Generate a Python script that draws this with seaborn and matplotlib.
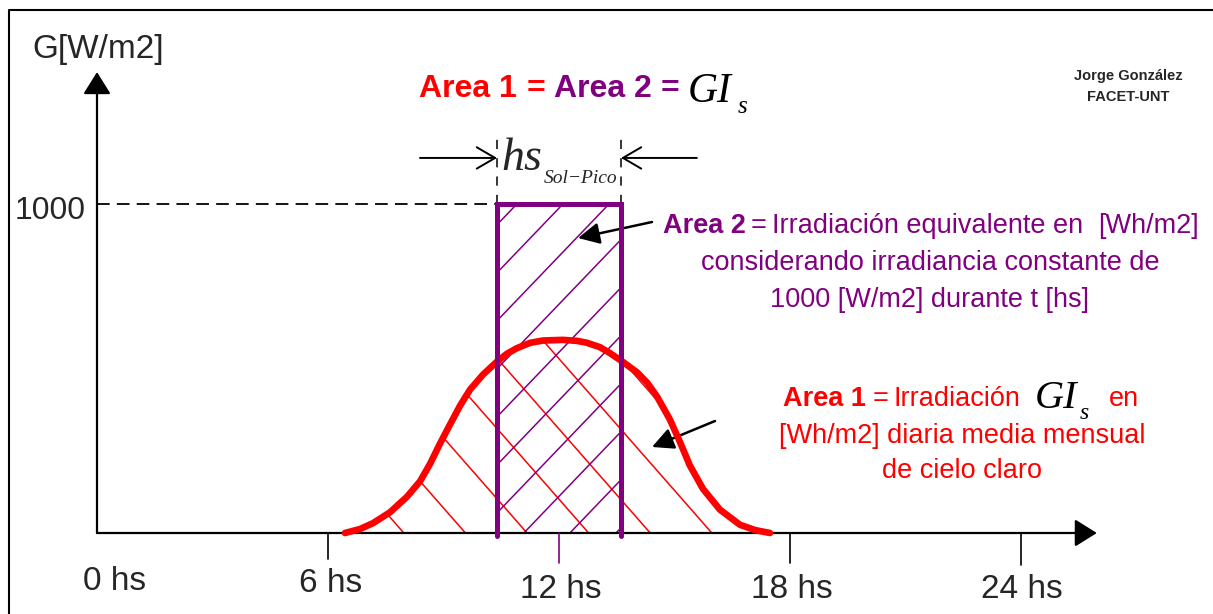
import numpy as np
import pandas as pd
import seaborn as sns
import matplotlib.pyplot as plt
from matplotlib.patches import Polygon, Rectangle
from matplotlib.lines import Line2D
from matplotlib.transforms import IdentityTransform

# data (clear-sky daily curve, hours vs W/m2)
hours = [6.44, 6.83, 7.17, 7.61, 8.05, 8.39, 8.65, 8.91, 9.17, 9.43, 9.69, 10.03,
         10.39, 10.65, 10.91, 11.25, 11.58, 12.10, 12.47, 12.73, 13.06, 13.32,
         13.66, 14.03, 14.29, 14.55, 14.88, 15.14, 15.40, 15.74, 16.18, 16.70,
         17.09, 17.48]
irradiance = [0, 12, 30, 63, 110, 157, 210, 272, 330, 387, 436, 482,
              521, 545, 562, 578, 585, 587, 584, 578, 565, 547,
              520, 488, 457, 414, 345, 277, 205, 134, 71, 25,
              9, 0]
peak_start, peak_end, peak_level = 10.39, 13.61, 1000
tick_hours = [0, 6, 12, 18, 24]
tick_labels = ['0 hs', '6 hs', '12 hs', '18 hs', '24 hs']

RED = '#FF0000'
PURPLE = '#800080'
W, H = 1213, 614
SANS = ['Liberation Sans']
SERIF = ['Liberation Serif']

sns.set_theme(style='white')
plt.rcParams['font.family'] = SANS

fig = plt.figure(figsize=(W / 100, H / 100), dpi=100)
ax = fig.add_axes([0, 0, 1, 1])
# pixel mapping: 0 h -> x=97, 38.5 px per hour ; 0 W/m2 -> y=533, 0.329 px per W/m2
ax.set_xlim(-97 / 38.5, (W - 97) / 38.5)
ax.set_ylim((533 - H) / 0.329, 533 / 0.329)
ax.axis('off')

df = pd.DataFrame({'h': hours, 'G': irradiance})

# red hatch (area 1), clipped to the area under the curve
area1 = Polygon(np.column_stack([hours, irradiance]), closed=True, fill=False, lw=0)
ax.add_patch(area1)
for h0 in np.arange(7.97 - 6 * 1.6, 20, 1.6):
    xs = np.array([h0 - 12, h0 + 12])
    ln, = ax.plot(xs, -133.4 * (xs - h0), color=RED, lw=1.1, zorder=2)
    ln.set_clip_path(area1)

# purple hatch (area 2), clipped to the rectangle
area2 = Rectangle((peak_start, 0), peak_end - peak_start, peak_level, fill=False, lw=0)
ax.add_patch(area2)
for g0 in np.arange(61 - 5 * 146, 1300, 146):
    xs = np.array([peak_start - 1, peak_end + 1])
    ln, = ax.plot(xs, g0 + 122 * (xs - peak_start), color=PURPLE, lw=1.1, zorder=2)
    ln.set_clip_path(area2)

# axes with arrows
arrow_kw = dict(arrowstyle='-|>,head_length=0.4,head_width=0.25', color='black',
                lw=1.6, mutation_scale=34, shrinkA=0, shrinkB=0)
ax.annotate('', xy=(25.97, 0), xytext=(0, 0), arrowprops=arrow_kw, zorder=3)
ax.annotate('', xy=(0, 1401), xytext=(0, 0), arrowprops=arrow_kw, zorder=3)

# ticks
tick_ends = [0, -80, -91, -91, -97]
tick_colors = ['black', 'black', PURPLE, 'black', 'black']
for hx, end, c in zip(tick_hours[1:], tick_ends[1:], tick_colors[1:]):
    ax.plot([hx, hx], [0, end], color=c, lw=1.2, zorder=3)
label_x = [115, 331, 561, 792, 1022]
label_y = [581, 584, 589, 589, 589]
for lx, ly, s in zip(label_x, label_y, tick_labels):
    fig.text(lx / W, 1 - ly / H, s, ha='center', va='center', fontsize=24, family=SANS)

# red curve and purple rectangle (three sides, bottom is the axis)
sns.lineplot(data=df, x='h', y='G', sort=False, estimator=None, color=RED, lw=4.8,
             ax=ax, zorder=4, solid_capstyle='round', solid_joinstyle='round')
ax.plot([peak_start, peak_start, peak_end, peak_end], [-8, peak_level, peak_level, -8],
        color=PURPLE, lw=3.6, zorder=5, solid_joinstyle='miter')

# 1000 reference line
ax.plot([0, peak_start], [peak_level, peak_level], color='black', lw=1.3,
        linestyle=(0, (7, 4)), zorder=3)

# dimension marks for hs
for hx in (peak_start, peak_end):
    ax.plot([hx, hx], [peak_level, 1200], color='black', lw=1.1, linestyle=(0, (6, 6)), zorder=3)
dim_kw = dict(arrowstyle='->,head_length=0.6,head_width=0.35', color='black', lw=1.4,
              mutation_scale=22, shrinkA=0, shrinkB=0)
ax.annotate('', xy=(peak_start, 1140), xytext=(peak_start - 2.0, 1140), arrowprops=dim_kw)
ax.annotate('', xy=(peak_end, 1140), xytext=(peak_end + 1.97, 1140), arrowprops=dim_kw)

# pointer arrows
ptr_kw = dict(arrowstyle='-|>,head_length=0.5,head_width=0.25', color='black', lw=1.8,
              mutation_scale=26, shrinkA=0, shrinkB=0)
ax.annotate('', xy=((578 - 97) / 38.5, (533 - 238) / 0.329),
            xytext=((652 - 97) / 38.5, (533 - 222) / 0.329), arrowprops=ptr_kw)
ax.annotate('', xy=((652 - 97) / 38.5, (533 - 447) / 0.329),
            xytext=((715 - 97) / 38.5, (533 - 421) / 0.329), arrowprops=ptr_kw)

# frame (left and top)
fig.add_artist(Line2D([9 / W, 9 / W, 1], [0, 1 - 10 / H, 1 - 10 / H],
                      transform=fig.transFigure, color='black', lw=1.5))

renderer = fig.canvas.get_renderer()


def put_runs(runs, x, y, ha='left'):
    # runs of text on one baseline, x/y in picture pixels (y from top)
    placed = []
    cx = 0
    for s, kw in runs:
        kw = dict(kw)
        dy = kw.pop('dy', 0)
        cx += kw.pop('gap', 0)
        t = fig.text(0, H - y - dy, s, transform=IdentityTransform(), ha='left',
                     va='baseline', **kw)
        placed.append((t, cx))
        cx += t.get_window_extent(renderer).width
    start = x if ha == 'left' else x - cx / 2
    for t, px in placed:
        t.set_x(start + px)


# axis labels
put_runs([('G[W/m2]', dict(fontsize=24, family=SANS))], 32, 58)
put_runs([('1000', dict(fontsize=23, family=SANS))], 15, 219)

# title
tb = dict(fontsize=23, family=SANS, weight='bold')
put_runs([('Area 1', dict(tb, color=RED)),
          ('=', dict(tb, color=RED, gap=10)),
          ('Area 2', dict(tb, color=PURPLE, gap=9)),
          ('=', dict(tb, color=PURPLE, gap=8)),
          ('GI', dict(fontsize=30, family=SERIF, style='italic', color='black', gap=9, dy=5)),
          ('s', dict(fontsize=18, family=SERIF, style='italic', color='black', gap=6, dy=16))],
         419, 97)

# hs Sol-Pico
put_runs([('hs', dict(fontsize=33, family=SERIF, style='italic')),
          ('Sol\u2212Pico', dict(fontsize=14, family=SERIF, style='italic', gap=2, dy=13))],
         501, 170)

# author
put_runs([('Jorge González', dict(fontsize=10.5, family=SANS, weight='bold'))], 1128, 80, 'center')
put_runs([('FACET-UNT', dict(fontsize=10.5, family=SANS, weight='bold'))], 1128, 101, 'center')

# area 2 description
pn = dict(fontsize=19.5, family=SANS, color=PURPLE)
put_runs([('Area 2', dict(pn, weight='bold')),
          ('=', dict(pn, gap=5)),
          ('Irradiación equivalente en', dict(pn, gap=5)),
          ('[Wh/m2]', dict(pn, gap=16))], 931, 233, 'center')
put_runs([('considerando irradiancia constante de', pn)], 930, 270, 'center')
put_runs([('1000 [W/m2] durante t [hs]', pn)], 930, 307, 'center')

# area 1 description
rn = dict(fontsize=19.5, family=SANS, color=RED)
put_runs([('Area 1', dict(rn, weight='bold')),
          ('=', dict(rn, gap=6)),
          ('Irradiación', dict(rn, gap=6)),
          ('GI', dict(fontsize=29, family=SERIF, style='italic', color='black', gap=14, dy=2)),
          ('s', dict(fontsize=17, family=SERIF, style='italic', color='black', gap=2, dy=13)),
          ('en', dict(rn, gap=20))], 961, 406, 'center')
put_runs([('[Wh/m2] diaria media mensual', rn)], 962, 443, 'center')
put_runs([('de cielo claro', rn)], 962, 478, 'center')

fig.savefig('out.png', dpi=100)
